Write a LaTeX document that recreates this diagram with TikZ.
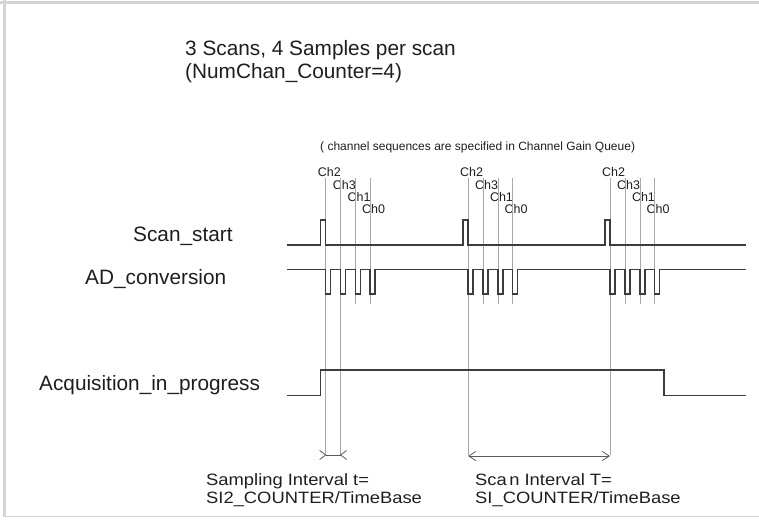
\documentclass[tikz,border=0pt]{standalone}
\usepackage{fontspec}
\setmainfont{Liberation Sans}
\newfontfamily\widesans[FakeStretch=1.12]{Liberation Sans}
\usetikzlibrary{arrows.meta,calc}
\definecolor{sigcol}{HTML}{3C3C3C}
\definecolor{gridcol}{HTML}{A8A8A8}
\definecolor{framecol}{HTML}{D4D4D4}
\definecolor{txtcol}{HTML}{1E1E1E}
\begin{document}
\begin{tikzpicture}[x=1pt,y=-1pt,
  sig/.style={line width=1.4pt,color=sigcol,line join=miter},
  vline/.style={line width=0.6pt,color=gridcol},
  dimline/.style={line width=0.8pt,color=sigcol!85},
  bigtxt/.style={inner sep=0pt,anchor=base west,font=\fontsize{20.8}{23}\selectfont,text=txtcol},
  midtxt/.style={inner sep=0pt,anchor=base west,font=\widesans\fontsize{16.4}{18}\selectfont,text=txtcol},
  smalltxt/.style={inner sep=0pt,anchor=base west,font=\fontsize{12}{14}\selectfont,text=txtcol},
  chtxt/.style={inner sep=0pt,anchor=base west,font=\fontsize{12.5}{14}\selectfont,text=txtcol}]
\useasboundingbox (0,0) rectangle (759,523);
% frame
\fill[framecol] (0,0.5) rectangle (759,4);
\fill[framecol] (3,0) rectangle (6,517);
\draw[framecol,line width=1.5pt] (3,516.5) -- (759,516.5);
% titles
\node[bigtxt] (t1) at (185,55) {3 Scans, 4 Samples per scan};
\node[bigtxt] (t2) at (185,78) {(NumChan\_Counter=4)};
\node[smalltxt] (q) at (320,150) {( channel sequences are specified in Channel Gain Queue)};
% signal labels
\node[bigtxt] (ls) at (133,241) {Scan\_start};
\node[bigtxt] (la) at (85,284) {AD\_conversion};
\node[bigtxt] (lq) at (39,390) {Acquisition\_in\_progress};
% vertical grid lines and channel labels
\foreach \s in {325.6,468,610}{
  \foreach \o/\n/\b in {0/2/176.7,15/3/189,29.8/1/201,44.4/0/213.3}{
    \node[chtxt] at (\s+\o-8,\b) {Ch\n};
    \draw[vline] (\s+\o,178) -- (\s+\o,304);
  }
}
\foreach \x in {325.6,340.6,468,610}{
  \draw[vline] (\x,304) -- (\x,455);
}
% Scan_start
\draw[sig] (287,245) -- (320.6,245) -- (320.6,220) -- (325.6,220) -- (325.6,245)
  -- (463,245) -- (463,220) -- (468,220) -- (468,245)
  -- (605,245) -- (605,220) -- (610,220) -- (610,245) -- (746,245);
% AD_conversion
\draw[sig] (287,269.5)
  \foreach \c in {325.6,340.6,355.4,370,468,483,497.8,512.4,610,625,639.8,654.4}{
    -- (\c,269.5) -- (\c,294) -- ++(5,0) -- ++(0,-24.5)
  } -- (746,269.5);
% Acquisition_in_progress
\draw[sig] (287,395.5) -- (320.6,395.5) -- (320.6,370) -- (664,370) -- (664,395.5) -- (746,395.5);
% sampling interval marker
\coordinate (sa) at (325.6,455);
\coordinate (sb) at (340.6,455);
\draw[dimline] (sa) -- (sb);
\draw[dimline] ($(sa)+(-6,-4.5)$) -- (sa) -- ($(sa)+(-6,4.5)$);
\draw[dimline] ($(sb)+(6,-4.5)$) -- (sb) -- ($(sb)+(6,4.5)$);
% scan interval arrow
\coordinate (ca) at (468,456);
\coordinate (cb) at (610,456);
\draw[dimline,{Straight Barb[length=7pt,width=9pt]}-{Straight Barb[length=7pt,width=9pt]}] (ca) -- (cb);
% bottom texts
\node[midtxt] (b1) at (206,485.5) {Sampling Interval t=};
\node[midtxt] (b2) at (206,503.5) {SI2\_COUNTER/TimeBase};
\node[midtxt] (b3) at (475,485.5) {Sca\hspace{0.15em}n Interval T=};
\node[midtxt] (b4) at (475,503.5) {SI\_COUNTER/TimeBase};
\end{tikzpicture}
\end{document}
